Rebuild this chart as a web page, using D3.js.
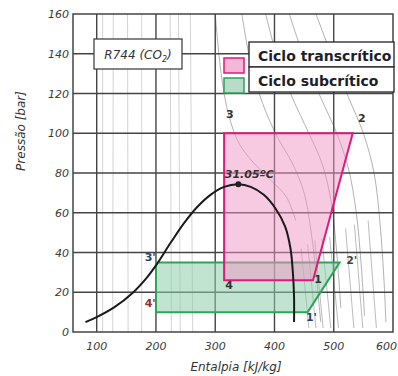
<!DOCTYPE html>
<html>
<head>
<meta charset="utf-8">
<script src="https://cdn.jsdelivr.net/npm/d3@7"></script>
<style>
  body { margin: 0; background: #fff; }
  svg { display: block; }
  .tick-label { font-family: 'DejaVu Sans', sans-serif; font-style: italic; font-size: 11px; fill: #3a3a3a; }
  .axis-title { font-family: 'DejaVu Sans', sans-serif; font-style: italic; font-size: 12px; fill: #333; }
  .pt-label { font-family: 'DejaVu Sans', sans-serif; font-weight: bold; font-size: 11px; fill: #333; }
  .legend-text { font-family: 'DejaVu Sans', sans-serif; font-weight: bold; font-size: 14px; fill: #1e1e2a; }
</style>
</head>
<body>
<svg id="chart"></svg>
<script>
// axis ticks
const xTicks = [100, 200, 300, 400, 500, 600];
const yTicks = [0, 20, 40, 60, 80, 100, 120, 140, 160];

// saturation dome (enthalpy kJ/kg, pressure bar)
const domeH = [81, 100, 130, 160, 185, 200, 225, 248, 270, 292, 315, 339, 360, 382, 402, 418, 427, 431, 433, 433];
const domeP = [5, 7.5, 12.5, 19.5, 27.5, 33.5, 45, 55, 63, 69, 73, 74.3, 73, 69, 62, 53, 42, 30, 18, 5];
const critical = {h: 339, p: 74.3, label: '31.05ºC'};

// cycles: 3-2-1-4 and 3'-2'-1'-4'
const transH = [315, 532, 465, 315];
const transP = [100, 100, 26, 26];
const subH = [200, 510, 456, 200];
const subP = [35, 35, 10, 10];

// state point labels
const ptNames = ['3', '2', '1', '4', "3'", "2'", "1'", "4'"];
const ptH = [318, 541, 467, 317, 181, 521, 453, 181];
const ptP = [107.5, 105.5, 24.5, 21.5, 35.5, 34, 5.5, 12.5];
const ptColors = ['#333', '#333', '#333', '#333', '#2f3f6e', '#444', '#2f3f6e', '#8a3030'];

// background property lines (h, p)
const isotherms = [
  [[300, 160], [310, 130], [322, 110], [340, 95], [365, 85], [395, 76], [420, 68], [436, 56]],
  [[345, 160], [360, 135], [380, 115], [405, 98], [430, 85], [450, 70], [462, 50], [470, 30], [478, 5]],
  [[385, 160], [405, 138], [430, 118], [458, 100], [480, 85], [496, 65], [505, 40], [512, 12]],
  [[425, 160], [450, 138], [478, 118], [505, 100], [525, 82], [538, 60], [546, 35], [552, 8]],
  [[470, 160], [498, 138], [525, 118], [550, 100], [568, 80], [578, 55], [585, 25], [588, 5]]
];
const vaporLines = [
  [[445, 42], [458, 2]], [[456, 44], [470, 2]], [[468, 46], [482, 2]], [[480, 47], [495, 2]],
  [[493, 48], [508, 2]], [[520, 52], [534, 2]], [[535, 54], [549, 2]], [[558, 56], [572, 2]]
];
const liquidLines = [
  [[110, 0], [110, 160]], [[127, 0], [128, 160]], [[153, 0], [152, 160]], [[176, 0], [176, 160]],
  [[226, 0], [224, 160]], [[241, 0], [238, 160]], [[262, 0], [258, 160]]
];

const legendItems = ['Ciclo transcrítico', 'Ciclo subcrítico'];

const width = 398, height = 376;
const margin = {top: 14, right: 5, bottom: 44, left: 73};

const svg = d3.select('#chart').attr('width', width).attr('height', height);

const x = d3.scaleLinear().domain([60, 600]).range([margin.left, width - margin.right]);
const y = d3.scaleLinear().domain([0, 160]).range([height - margin.bottom, margin.top]);

const plot = svg.append('g');

// light background lines
const pline = d3.line().x(d => x(d[0])).y(d => y(d[1]));
const curvy = d3.line().x(d => x(d[0])).y(d => y(d[1])).curve(d3.curveCatmullRom);

plot.append('g').selectAll('path')
  .data(liquidLines)
  .join('path')
    .attr('d', pline)
    .attr('fill', 'none')
    .attr('stroke', '#d4d4d4')
    .attr('stroke-width', 1);

plot.append('g').selectAll('path')
  .data(isotherms)
  .join('path')
    .attr('d', curvy)
    .attr('fill', 'none')
    .attr('stroke', '#a8a8a8')
    .attr('stroke-width', 0.9);

plot.append('g').selectAll('path')
  .data(vaporLines)
  .join('path')
    .attr('d', pline)
    .attr('fill', 'none')
    .attr('stroke', '#b4b4b4')
    .attr('stroke-width', 0.9);

// major grid
plot.append('g').selectAll('line')
  .data(xTicks.slice(0, -1))
  .join('line')
    .attr('x1', d => x(d)).attr('x2', d => x(d))
    .attr('y1', y(0)).attr('y2', y(160))
    .attr('stroke', '#444').attr('stroke-width', 1.4);

plot.append('g').selectAll('line')
  .data(yTicks.slice(1, -1))
  .join('line')
    .attr('x1', x(60)).attr('x2', x(600))
    .attr('y1', d => y(d)).attr('y2', d => y(d))
    .attr('stroke', '#444').attr('stroke-width', 1.4);

// frame
plot.append('rect')
  .attr('x', x(60)).attr('y', y(160))
  .attr('width', x(600) - x(60)).attr('height', y(0) - y(160))
  .attr('fill', 'none').attr('stroke', '#444').attr('stroke-width', 1.5);

// cycles
const toPts = (hs, ps) => hs.map((h, i) => [x(h), y(ps[i])]);

plot.append('polygon')
  .attr('points', toPts(subH, subP).join(' '))
  .attr('fill', 'rgb(140,205,170)').attr('fill-opacity', 0.55)
  .attr('stroke', '#2ea35a').attr('stroke-width', 2);

plot.append('polygon')
  .attr('points', toPts(transH, transP).join(' '))
  .attr('fill', 'rgb(242,150,198)').attr('fill-opacity', 0.5)
  .attr('stroke', '#e0197c').attr('stroke-width', 2);

// dome
plot.append('path')
  .datum(domeH.map((h, i) => [h, domeP[i]]))
  .attr('d', curvy)
  .attr('fill', 'none')
  .attr('stroke', '#1a1a1a')
  .attr('stroke-width', 2);

plot.append('circle')
  .attr('cx', x(critical.h)).attr('cy', y(critical.p))
  .attr('r', 3).attr('fill', '#222');

plot.append('text')
  .attr('x', x(critical.h) + 11).attr('y', y(critical.p) - 6)
  .attr('text-anchor', 'middle')
  .attr('font-family', 'DejaVu Sans').attr('font-style', 'italic').attr('font-weight', 'bold')
  .attr('font-size', 11).attr('fill', '#333')
  .text(critical.label);

// state points
plot.append('g').selectAll('text')
  .data(ptNames)
  .join('text')
    .attr('class', 'pt-label')
    .attr('x', (d, i) => x(ptH[i]))
    .attr('y', (d, i) => y(ptP[i]))
    .style('fill', (d, i) => ptColors[i])
    .text(d => d);

// axes labels
svg.append('g').selectAll('text')
  .data(yTicks)
  .join('text')
    .attr('class', 'tick-label')
    .attr('x', x(60) - 4)
    .attr('y', d => y(d) + 4)
    .attr('text-anchor', 'end')
    .text(d => d);

svg.append('g').selectAll('text')
  .data(xTicks)
  .join('text')
    .attr('class', 'tick-label')
    .attr('x', d => d === 600 ? width - 1 : x(d))
    .attr('y', y(0) + 18)
    .attr('text-anchor', d => d === 600 ? 'end' : 'middle')
    .text(d => d);

svg.append('text')
  .attr('class', 'axis-title')
  .attr('x', (x(60) + x(600)) / 2 + 3)
  .attr('y', 371)
  .attr('text-anchor', 'middle')
  .text('Entalpia [kJ/kg]');

svg.append('text')
  .attr('class', 'axis-title')
  .attr('transform', 'translate(25,131) rotate(-90)')
  .attr('text-anchor', 'middle')
  .text('Pressão [bar]');

// refrigerant tag
svg.append('rect')
  .attr('x', 94).attr('y', 39).attr('width', 88).attr('height', 30)
  .attr('fill', '#fff').attr('stroke', '#444').attr('stroke-width', 1.3);

const tag = svg.append('text')
  .attr('x', 138).attr('y', 59)
  .attr('text-anchor', 'middle')
  .attr('font-family', 'DejaVu Sans').attr('font-style', 'italic')
  .attr('font-size', 12).attr('fill', '#333');
tag.append('tspan').text('R744 (CO');
tag.append('tspan').attr('font-size', 8).attr('dy', 3).text('2');
tag.append('tspan').attr('dy', -3).text(')');

// legend
const legend = svg.append('g');
const swFill = ['rgb(244,184,214)', 'rgb(184,220,200)'];
const swStroke = ['#e0197c', '#2ea35a'];

legend.selectAll('rect.box')
  .data(legendItems)
  .join('rect')
    .attr('class', 'box')
    .attr('x', 249).attr('y', (d, i) => 42 + i * 25)
    .attr('width', 145).attr('height', 25)
    .attr('fill', '#fff').attr('stroke', '#222').attr('stroke-width', 1.3);

legend.selectAll('rect.sw')
  .data(legendItems)
  .join('rect')
    .attr('class', 'sw')
    .attr('x', 224).attr('y', (d, i) => 58 + i * 20)
    .attr('width', 20).attr('height', 15)
    .attr('fill', (d, i) => swFill[i])
    .attr('stroke', (d, i) => swStroke[i]).attr('stroke-width', 1.5);

legend.selectAll('text')
  .data(legendItems)
  .join('text')
    .attr('class', 'legend-text')
    .attr('x', 258).attr('y', (d, i) => 61 + i * 25)
    .text(d => d);
</script>
</body>
</html>
